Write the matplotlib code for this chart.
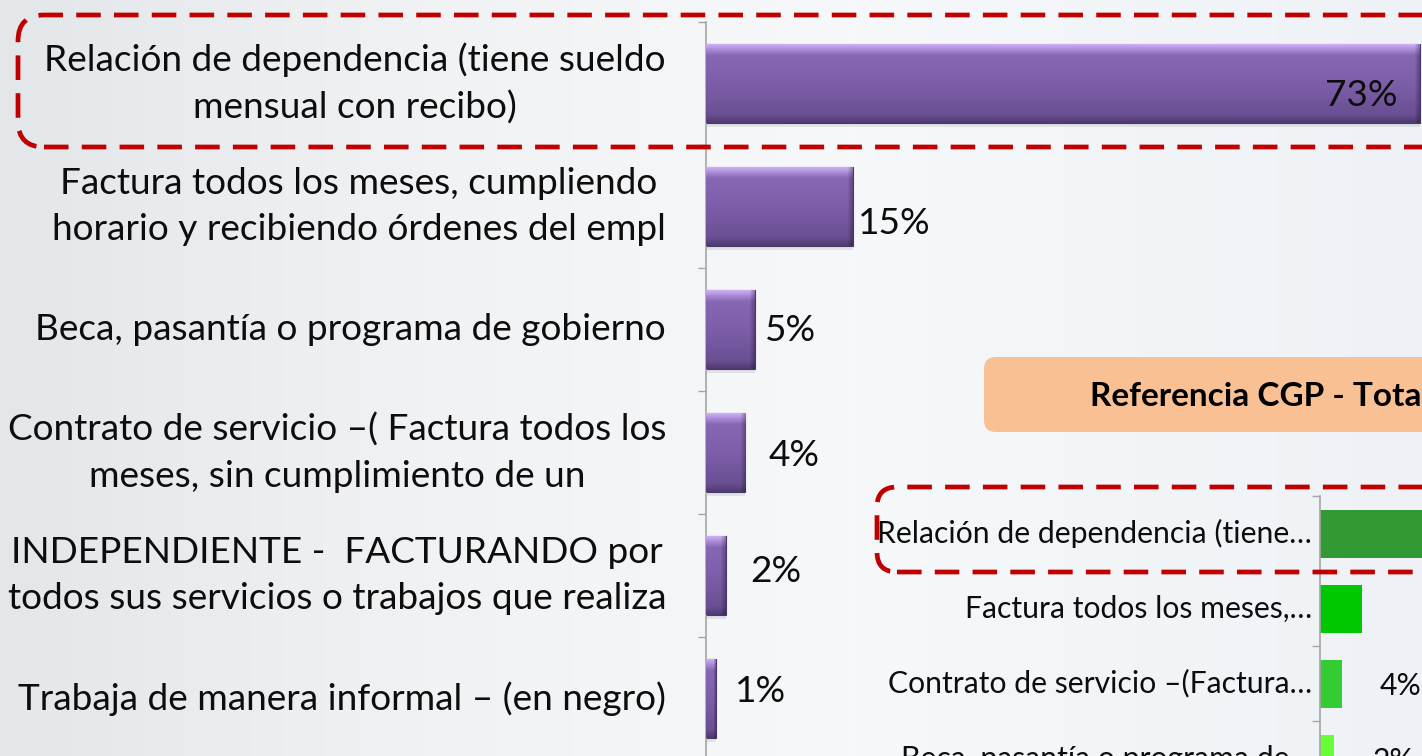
import numpy as np
import matplotlib
matplotlib.use("Agg")
import matplotlib.pyplot as plt
from matplotlib.patches import FancyBboxPatch
from matplotlib.textpath import TextPath
from matplotlib.font_manager import FontProperties
import matplotlib.colors as mcolors

# ---------------- data ----------------
categories = [
    "Relación de dependencia (tiene sueldo\nmensual con recibo)",
    "Factura todos los meses, cumpliendo\nhorario y recibiendo órdenes del empl",
    "Beca, pasantía o programa de gobierno",
    "Contrato de servicio –( Factura todos los\nmeses, sin cumplimiento de un",
    "INDEPENDIENTE -  FACTURANDO por\ntodos sus servicios o trabajos que realiza",
    "Trabaja de manera informal – (en negro)",
]
values = [73, 15, 5, 4, 2, 1]

ref_title = "Referencia CGP - Total"
ref_categories = [
    "Relación de dependencia (tiene…",
    "Factura todos los meses,…",
    "Contrato de servicio –(Factura…",
    "Beca, pasantía o programa de…",
]
ref_values = [68, 7.0, 3.6, 2.4]
ref_show_label = [False, False, True, True]

# ---------------- style ----------------
W, H, DPI = 1422, 756, 100
FONT = "Lato"
fig = plt.figure(figsize=(W / DPI, H / DPI), dpi=DPI)


def fit_size(text, target_px, weight="normal"):
    fp = FontProperties(family=FONT, weight=weight)
    w = TextPath((0, 0), text, size=100, prop=fp).get_extents().width
    return 100 * target_px / (w * DPI / 72.0)


def px_axes(x0, top, x1, bottom):
    return fig.add_axes([x0 / W, 1 - bottom / H, (x1 - x0) / W, (bottom - top) / H])


# background
bg = fig.add_axes([0, 0, 1, 1], zorder=-10)
bg.axis("off")
cmap_bg = mcolors.LinearSegmentedColormap.from_list(
    "bg", [(0, "#e4e7ea"), (0.3, "#f0f2f4"), (0.6, "#f6f8fa"), (1.0, "#eef2f6")])
gx = np.linspace(0, 1, 400)[None, :].repeat(2, axis=0)
bg.imshow(gx, cmap=cmap_bg, aspect="auto", extent=[0, 1, 0, 1])
bg.set_xlim(0, 1)
bg.set_ylim(0, 1)

fs_main = fit_size("todos sus servicios o trabajos que realiza", 655)
fs_ref = fit_size("Relación de dependencia (tiene…", 430)
fs_title = fit_size("Referencia CGP - Tota", 328, weight="bold")

# ---------------- main chart ----------------
PX_PER_PCT = 9.78
ax = px_axes(706, 22, 1422, 760)
ax.patch.set_alpha(0)
n = len(values)
ypos = np.arange(n)
bar_h = 0.64
AX_W_PX = 716

bar_grad = mcolors.LinearSegmentedColormap.from_list(
    "bar", [(0, "#cdaef5"), (0.07, "#a587d2"), (0.14, "#8767b4"),
            (0.55, "#7b5da7"), (0.9, "#6a4f93"), (1.0, "#4f3b72")])

# soft shadow
ax.barh(ypos + 4 / 123, values, height=bar_h, color="#8a8f99", alpha=0.18,
        zorder=1, linewidth=0)
bars = ax.barh(ypos, values, height=bar_h, color="#7b5da7",
               edgecolor="#4a3869", linewidth=0.8, zorder=2)
for b, v in zip(bars, values):
    x0, y0 = b.get_x(), b.get_y()
    w, h = b.get_width(), b.get_height()
    wpx = max(int(round(v * PX_PER_PCT)), 3)
    img = bar_grad(np.linspace(0, 1, 80))[:, None, :3].repeat(wpx, axis=1)
    edge = min(6, wpx // 3)
    if edge > 0:
        shade = np.linspace(1.0, 0.72, edge)
        img[:, -edge:, :] *= shade[None, :, None]
    ax.imshow(img, extent=[x0, x0 + w, y0 + h, y0], aspect="auto",
              interpolation="bilinear", zorder=3, clip_path=b, clip_on=True)

ax.set_xlim(0, AX_W_PX / PX_PER_PCT)
ax.set_ylim(n - 0.5, -0.5)

for side in ["top", "right", "bottom"]:
    ax.spines[side].set_visible(False)
ax.spines["left"].set_color("#a6a6a6")
ax.spines["left"].set_linewidth(1.2)
ax.set_xticks([])
ax.set_yticks(np.arange(-0.5, n, 1))
ax.set_yticklabels([])
ax.tick_params(axis="y", which="major", direction="out", length=6,
               color="#a6a6a6", width=1.0)

lab_tr = ax.get_yaxis_transform()
for i, c in enumerate(categories):
    ax.text(-40 / AX_W_PX, i, c, transform=lab_tr, ha="right", va="center",
            multialignment="center", fontsize=fs_main, family=FONT,
            linespacing=1.48, color="#0d0d0d")

label_offsets = [(-22, -12, "right"), (5, -17, "left"), (10, -1, "left"),
                 (23, -3, "left"), (25, 4, "left"), (19, 7, "left")]
for i, v in enumerate(values):
    dx, dy, ha = label_offsets[i]
    ax.annotate(f"{v}%", xy=(v, i), xytext=(dx, dy), textcoords="offset pixels",
                ha=ha, va="center", fontsize=fs_main, family=FONT,
                color="#0d0d0d", zorder=5)

# red dashed box (main)
dash = (0, (5.2, 2.8))
box1 = FancyBboxPatch((18, 756 - 147), 1460, 132,
                      boxstyle="round,pad=0,rounding_size=26",
                      transform=None, fill=False, edgecolor="#c00000",
                      linewidth=3.4, linestyle=dash, zorder=20)
fig.patches.append(box1)

# ---------------- reference title box ----------------
tbox = FancyBboxPatch((984, 756 - 432), 500, 75,
                      boxstyle="round,pad=0,rounding_size=12",
                      transform=None, facecolor="#f9c193", edgecolor="none",
                      zorder=5)
fig.patches.append(tbox)
fig.text(1090 / W, 1 - 397 / H, ref_title, ha="left", va="center",
         fontsize=fs_title, fontweight="bold", family=FONT, color="#000000",
         zorder=6)

# ---------------- reference chart ----------------
REF_PX = 6.0
ax2 = px_axes(1320, 496, 1422, 796)
ax2.patch.set_alpha(0)
m = len(ref_values)
ref_colors = ["#339933", "#00c800", "#33cc33", "#66ff33"]
ax2.barh(np.arange(m), ref_values, height=0.64, color=ref_colors, zorder=2)
ax2.set_xlim(0, 102 / REF_PX)
ax2.set_ylim(m - 0.5, -0.5)
for side in ["top", "right", "bottom"]:
    ax2.spines[side].set_visible(False)
ax2.spines["left"].set_color("#a6a6a6")
ax2.spines["left"].set_linewidth(1.2)
ax2.set_xticks([])
ax2.set_yticks(np.arange(-0.5, m, 1))
ax2.set_yticklabels([])
ax2.tick_params(axis="y", which="major", direction="out", length=6,
                color="#a6a6a6", width=1.0)
tr2 = ax2.get_yaxis_transform()
for i, c in enumerate(ref_categories):
    ax2.text(-8 / 102, i, c, transform=tr2, ha="right", va="center",
             fontsize=fs_ref, family=FONT, color="#0d0d0d")
for i, (v, show) in enumerate(zip(ref_values, ref_show_label)):
    if show:
        ax2.annotate(f"{v:.0f}%", xy=(v, i), xytext=(38, -2),
                     textcoords="offset pixels", ha="left", va="center",
                     fontsize=fs_ref, family=FONT, color="#0d0d0d",
                     annotation_clip=False)

box2 = FancyBboxPatch((877, 756 - 572), 700, 85,
                      boxstyle="round,pad=0,rounding_size=20",
                      transform=None, fill=False, edgecolor="#c00000",
                      linewidth=3.4, linestyle=dash, zorder=20)
fig.patches.append(box2)

fig.savefig("out.png", dpi=DPI)
